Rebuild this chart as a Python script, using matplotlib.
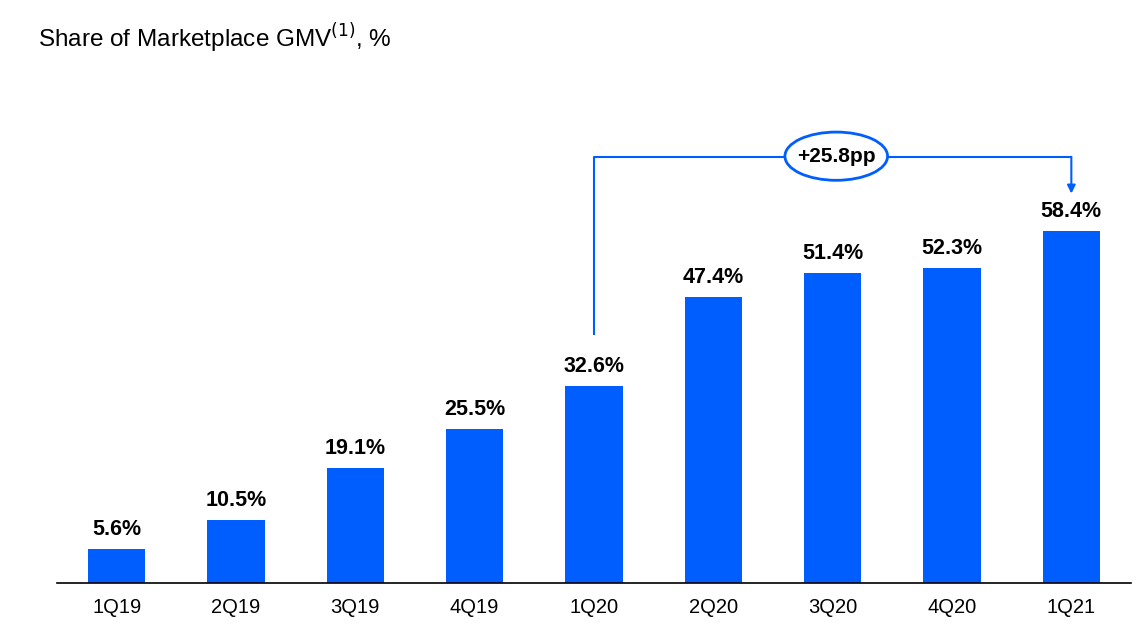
import matplotlib
matplotlib.use("Agg")
import matplotlib.pyplot as plt
from matplotlib.patches import Ellipse

quarters = ["1Q19", "2Q19", "3Q19", "4Q19", "1Q20", "2Q20", "3Q20", "4Q20", "1Q21"]
share = [5.6, 10.5, 19.1, 25.5, 32.6, 47.4, 51.4, 52.3, 58.4]
delta_label = "+25.8pp"

blue = "#005EFF"
plt.rcParams['font.family'] = ['Liberation Sans', 'DejaVu Sans']

fig = plt.figure(figsize=(11.47, 6.37), dpi=100)
ax = fig.add_axes([57 / 1147, 54 / 637, 1074 / 1147, 422 / 637])

x = list(range(len(quarters)))
ax.bar(x, share, width=0.48, color=blue)

# value labels above bars
for xi, v in zip(x, share):
    ax.text(xi, v + 1.5, f"{v}%", ha='center', va='bottom',
            fontsize=15.5, fontweight='bold', color='black')

ax.set_xlim(-0.5, len(quarters) - 0.5)
ax.set_ylim(0, 70)
ax.set_xticks(x)
ax.set_xticklabels(quarters, fontsize=14.5)
ax.tick_params(axis='x', length=0, pad=11)
ax.set_yticks([])
for s in ['top', 'right', 'left']:
    ax.spines[s].set_visible(False)
ax.spines['bottom'].set_color('black')
ax.spines['bottom'].set_linewidth(1.2)

# bracket from 1Q20 to 1Q21
i0, i1 = 4, 8
y_top = 70.6
ax.plot([i0, i0, i1], [41.3, y_top, y_top], color=blue, lw=1.5, clip_on=False)
ax.annotate("", xy=(i1, 64.6), xytext=(i1, y_top + 0.1),
            arrowprops=dict(arrowstyle='-|>', color=blue, lw=1.5,
                            mutation_scale=12, shrinkA=0, shrinkB=0),
            annotation_clip=False)
ell = Ellipse((6.03, 70.8), 0.86, 8.0, facecolor='white', edgecolor=blue,
              lw=2, clip_on=False, zorder=5)
ax.add_patch(ell)
ax.text(6.03, 70.8, delta_label, ha='center', va='center', fontsize=15,
        fontweight='bold', zorder=6)

fig.text(38 / 1147, 1 - 38 / 637, "Share of Marketplace GMV$^{(1)}$, %",
         fontsize=17.5, va='center', ha='left')

fig.savefig("out.png", dpi=100)
